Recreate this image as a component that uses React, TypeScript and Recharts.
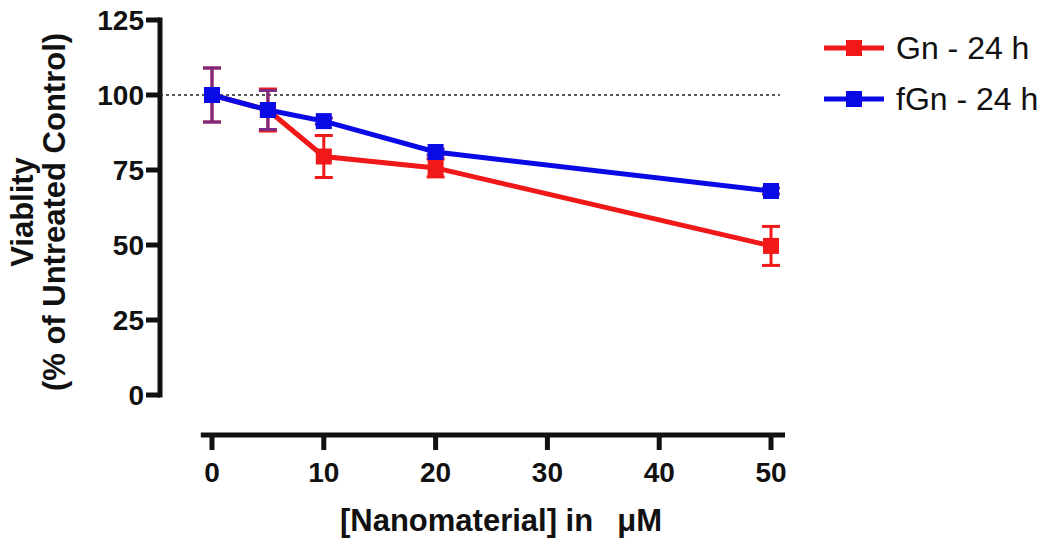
import React from "react"
import {
  LineChart,
  Line,
  XAxis,
  YAxis,
  ErrorBar,
  ReferenceLine,
  Legend,
} from "recharts"

const doses = [0, 5, 10, 20, 50]
const gnViability = [100, 95, 79.5, 75.7, 49.7]
const gnError = [9, 7, 7, 3, 6.5]
const fgnViability = [100, 95, 91.3, 81, 68]
const fgnError = [9, 6.5, 1, 1, 1]

const yTicks = [0, 25, 50, 75, 100, 125]
const xTicks = [0, 10, 20, 30, 40, 50]

const xDomain: [number, number] = [-4.65, 51.25]
const yDomain: [number, number] = [-13.33, 125]

const RED = "#f01818"
const BLUE = "#0a0ae6"
const PURPLE = "#7a2a80"
const FONT = "'Liberation Sans', Arial, sans-serif"

const data = doses.map((d, i) => ({
  dose: d,
  gn: gnViability[i],
  gnErr: gnError[i],
  fgn: fgnViability[i],
  fgnErr: fgnError[i],
}))

function squareDot(color: string, size: number) {
  return (props: any) => {
    const { cx, cy, index } = props
    if (cx == null || cy == null) return <g key={index} />
    return (
      <rect
        key={`sq-${color}-${index}`}
        x={cx - size / 2}
        y={cy - size / 2}
        width={size}
        height={size}
        fill={color}
      />
    )
  }
}

function YTitle(props: any) {
  const { viewBox } = props
  const cy = viewBox.y + 192
  return (
    <g fontFamily={FONT} fontWeight="bold" fontSize={31} fill="#111">
      <text x={22} y={cy} textAnchor="middle" dominantBaseline="central" transform={`rotate(-90 22 ${cy})`}>
        Viablity
      </text>
      <text x={54} y={cy} textAnchor="middle" dominantBaseline="central" transform={`rotate(-90 54 ${cy})`}>
        (% of Untreated Control)
      </text>
    </g>
  )
}

function XTitle(props: any) {
  const { viewBox } = props
  return (
    <text
      x={501}
      y={viewBox.y + 85}
      textAnchor="middle"
      dominantBaseline="central"
      fontFamily={FONT}
      fontWeight="bold"
      fontSize={31}
      fill="#111"
      style={{ whiteSpace: "pre" }}
    >
      {"[Nanomaterial] in\u2002 \u03bcM"}
    </text>
  )
}

const legendItems = [
  { label: "Gn - 24 h", color: RED },
  { label: "fGn - 24 h", color: BLUE },
]

function ChartLegend() {
  return (
    <div style={{ fontFamily: FONT }}>
      {legendItems.map((it) => (
        <div key={it.label} style={{ display: "flex", alignItems: "center", height: 51 }}>
          <svg width={70} height={20}>
            <line x1={4} y1={10} x2={64} y2={10} stroke={it.color} strokeWidth={5} />
            <rect x={26} y={2} width={16} height={16} fill={it.color} />
          </svg>
          <span style={{ fontSize: 32, color: "#111", marginLeft: 6, lineHeight: 1 }}>{it.label}</span>
        </div>
      ))}
    </div>
  )
}

export default function App() {
  return (
    <div style={{ position: "absolute", left: 0, top: 0, background: "#fff" }}>
      <LineChart
        width={1050}
        height={541}
        data={data}
        margin={{ top: 20, right: 265, bottom: 0, left: 0 }}
      >
        <XAxis
          dataKey="dose"
          type="number"
          domain={xDomain}
          ticks={xTicks}
          allowDataOverflow
          axisLine={false}
          tickLine={{ stroke: "#111", strokeWidth: 5 }}
          tickSize={15}
          tickMargin={12}
          height={106}
          tick={{ fill: "#111", fontSize: 28, fontWeight: "bold", fontFamily: FONT }}
          label={<XTitle />}
        />
        <YAxis
          type="number"
          domain={yDomain}
          ticks={yTicks}
          allowDataOverflow
          axisLine={false}
          tickLine={{ stroke: "#111", strokeWidth: 5 }}
          tickSize={14}
          width={160}
          tick={{ fill: "#111", fontSize: 28, fontWeight: "bold", fontFamily: FONT }}
          label={<YTitle />}
        />
        <ReferenceLine
          segment={[
            { x: xDomain[0], y: 0 },
            { x: xDomain[0], y: 125 },
          ]}
          stroke="#111"
          strokeWidth={5}
          strokeLinecap="square"
          ifOverflow="visible"
        />
        <ReferenceLine
          segment={[
            { x: -1, y: yDomain[0] },
            { x: xDomain[1], y: yDomain[0] },
          ]}
          stroke="#111"
          strokeWidth={5}
          ifOverflow="visible"
        />
        <ReferenceLine
          segment={[
            { x: xDomain[0], y: 100 },
            { x: 50.8, y: 100 },
          ]}
          stroke="#222"
          strokeWidth={1.5}
          strokeDasharray="3 3"
          ifOverflow="visible"
        />
        <Line
          type="linear"
          dataKey="gn"
          name="Gn - 24 h"
          stroke={RED}
          strokeWidth={5}
          dot={squareDot(RED, 16)}
          activeDot={false}
          isAnimationActive={false}
        >
          <ErrorBar dataKey="gnErr" width={9} strokeWidth={3} stroke={RED} />
        </Line>
        <Line
          type="linear"
          dataKey="fgn"
          name="fGn - 24 h"
          stroke={BLUE}
          strokeWidth={5}
          dot={squareDot(BLUE, 16)}
          activeDot={false}
          isAnimationActive={false}
        >
          <ErrorBar dataKey="fgnErr" width={9} strokeWidth={3} stroke={PURPLE} />
        </Line>
        <Legend
          layout="horizontal"
          verticalAlign="middle"
          align="center"
          content={<ChartLegend />}
          wrapperStyle={{ top: 22, left: 820, width: 230, bottom: "auto", right: "auto" }}
        />
      </LineChart>
    </div>
  )
}
